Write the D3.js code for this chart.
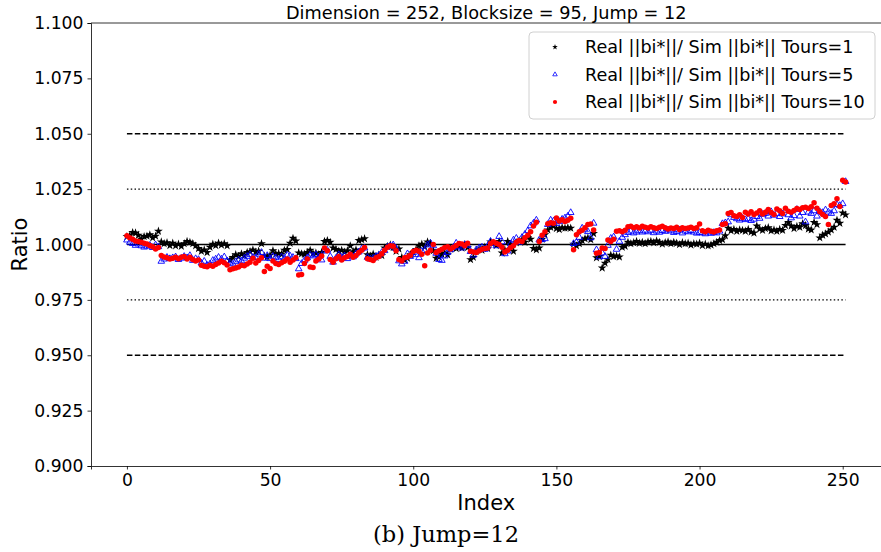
<!DOCTYPE html>
<html>
<head>
<meta charset="utf-8">
<script src="https://cdn.jsdelivr.net/npm/d3@7/dist/d3.min.js"></script>
<style>
  body { margin: 0; background: #fff; }
  svg { display: block; }
</style>
</head>
<body>
<div id="chart"></div>
<script>
// Real ||bi*|| / Sim ||bi*|| per index
const tours1 = [
  1.0036, 1.0040, 1.0054, 1.0052, 1.0042, 1.0024, 1.0036, 1.0038, 1.0044, 1.0030, 1.0038, 1.0060,
  1.0012, 1.0004, 1.0008, 0.9996, 1.0006, 0.9994, 1.0002, 0.9992, 1.0004, 1.0014, 1.0010, 1.0004, 0.9994,
  0.9982, 0.9970, 0.9976, 0.9964, 0.9988, 1.0002, 0.9996, 1.0006, 0.9998, 1.0004, 0.9994,
  0.9930, 0.9942, 0.9954, 0.9946, 0.9958, 0.9950, 0.9964, 0.9968, 0.9976, 0.9966, 0.9970, 1.0004, 0.9948, 0.9944, 0.9952, 0.9972, 0.9958, 0.9960, 0.9956, 0.9974, 0.9978, 1.0006, 1.0028, 1.0016,
  0.9962, 0.9958, 0.9956, 0.9964, 0.9974, 0.9960, 0.9962, 0.9954, 0.9964, 1.0014, 1.0018, 1.0010, 0.9984, 0.9978, 0.9970, 0.9974, 0.9966, 0.9972, 0.9994, 0.9968,
  0.9976, 1.0018, 1.0022, 1.0026, 0.9954, 0.9948, 0.9956, 0.9942, 0.9952, 0.9950, 0.9984, 0.9992, 0.9998, 0.9986, 0.9970, 0.9980, 0.9942, 0.9930, 0.9938, 0.9954,
  0.9964, 0.9978, 0.9994, 1.0002, 0.9990, 1.0012, 1.0004, 0.9972, 0.9938, 0.9944, 0.9956, 0.9962, 0.9954, 0.9980, 0.9986, 0.9982, 0.9994, 0.9984, 0.9998, 0.9986,
  0.9932, 0.9942, 0.9970, 0.9978, 0.9974, 0.9988, 0.9982, 1.0012, 1.0006, 0.9996, 1.0014, 0.9962, 0.9976, 1.0014, 1.0002, 0.9970, 1.0008, 1.0016, 1.0022, 1.0010,
  1.0032, 1.0024, 0.9982, 0.9976, 0.9984, 1.0024, 1.0044, 1.0066, 1.0078, 1.0084, 1.0072, 1.0068, 1.0076, 1.0074, 1.0076, 1.0074, 1.0002, 0.9994, 1.0004, 1.0018,
  1.0026, 1.0030, 1.0022, 1.0050, 0.9940, 0.9946, 0.9894, 0.9916, 0.9932, 0.9952, 0.9946, 0.9948, 0.9944, 0.9988, 0.9992, 1.0010, 1.0004, 1.0008, 1.0014, 1.0006,
  1.0010, 1.0004, 1.0012, 1.0014, 1.0008, 1.0016, 1.0010, 1.0002, 1.0008, 1.0012, 1.0004, 1.0010, 1.0006, 1.0000, 1.0008, 1.0004, 1.0006, 0.9998, 1.0004, 1.0002,
  1.0006, 0.9996, 1.0002, 0.9994, 0.9998, 1.0004, 1.0010, 1.0018, 1.0022, 1.0040, 1.0074, 1.0062, 1.0068, 1.0060, 1.0066, 1.0064, 1.0060, 1.0068, 1.0056, 1.0052,
  1.0084, 1.0070, 1.0064, 1.0072, 1.0076, 1.0062, 1.0066, 1.0060, 1.0068, 1.0064, 1.0086, 1.0100, 1.0084, 1.0072, 1.0082, 1.0078, 1.0094, 1.0086, 1.0070, 1.0066,
  1.0100, 1.0090, 1.0030, 1.0042, 1.0048, 1.0056, 1.0066, 1.0078, 1.0110, 1.0096, 1.0142, 1.0134
];
const tours5 = [
  1.0020, 1.0010, 1.0004, 0.9996, 1.0002, 0.9994, 0.9988, 0.9992, 0.9996, 0.9986, 0.9998, 0.9990,
  0.9924, 0.9934, 0.9942, 0.9936, 0.9940, 0.9944, 0.9932, 0.9938, 0.9946, 0.9940, 0.9950, 0.9928, 0.9936, 0.9932, 0.9916, 0.9924, 0.9906, 0.9912, 0.9928, 0.9934, 0.9942, 0.9934, 0.9944, 0.9926,
  0.9916, 0.9912, 0.9922, 0.9930, 0.9926, 0.9938, 0.9946, 0.9954, 0.9942, 0.9940, 0.9956, 0.9964, 0.9938, 0.9950, 0.9936, 0.9946, 0.9940, 0.9932, 0.9944, 0.9938, 0.9952, 0.9948, 0.9942, 0.9936,
  0.9890, 0.9914, 0.9928, 0.9940, 0.9952, 0.9948, 0.9954, 0.9944, 0.9930, 0.9970, 0.9974, 0.9946, 0.9920, 0.9938, 0.9954, 0.9942, 0.9948, 0.9936, 0.9952, 0.9944,
  0.9958, 0.9966, 0.9980, 0.9984, 0.9942, 0.9934, 0.9938, 0.9946, 0.9952, 0.9964, 0.9972, 0.9988, 0.9994, 0.9998, 0.9982, 0.9926, 0.9912, 0.9924, 0.9958, 0.9946,
  0.9964, 0.9954, 0.9940, 0.9970, 0.9972, 0.9998, 1.0006, 0.9994, 0.9960, 0.9932, 0.9928, 0.9948, 0.9964, 0.9976, 0.9986, 1.0006, 0.9992, 0.9984, 1.0000, 0.9996,
  0.9968, 0.9952, 0.9976, 0.9984, 0.9988, 0.9978, 0.9992, 1.0014, 1.0004, 0.9994, 1.0036, 1.0012, 0.9958, 0.9970, 1.0002, 1.0020, 1.0028, 1.0010, 1.0032, 1.0046,
  1.0062, 1.0084, 1.0096, 1.0110, 1.0020, 1.0022, 1.0026, 1.0090, 1.0110, 1.0106, 1.0094, 1.0104, 1.0114, 1.0120, 1.0128, 1.0144, 1.0004, 1.0010, 1.0032, 1.0074,
  1.0066, 1.0058, 1.0030, 1.0096, 0.9976, 0.9944, 0.9962, 0.9946, 0.9996, 1.0028, 1.0034, 0.9978, 1.0014, 1.0032, 1.0044, 1.0054, 1.0060, 1.0052, 1.0056, 1.0062,
  1.0056, 1.0061, 1.0057, 1.0064, 1.0053, 1.0060, 1.0055, 1.0063, 1.0059, 1.0066, 1.0061, 1.0054, 1.0058, 1.0065, 1.0052, 1.0060, 1.0057, 1.0063, 1.0056, 1.0051,
  1.0054, 1.0052, 1.0048, 1.0056, 1.0050, 1.0054, 1.0052, 1.0060, 1.0094, 1.0098, 1.0102, 1.0134, 1.0122, 1.0116, 1.0110, 1.0118, 1.0112, 1.0116, 1.0108, 1.0114,
  1.0126, 1.0118, 1.0136, 1.0140, 1.0128, 1.0148, 1.0132, 1.0140, 1.0126, 1.0138, 1.0154, 1.0134, 1.0120, 1.0130, 1.0158, 1.0128, 1.0144, 1.0102, 1.0146, 1.0140,
  1.0152, 1.0128, 1.0148, 1.0144, 1.0156, 1.0146, 1.0140, 1.0152, 1.0180, 1.0176, 1.0184, 1.0284
];
const tours10 = [
  1.0040, 1.0030, 1.0024, 1.0016, 1.0014, 1.0010, 1.0006, 1.0002, 0.9996, 0.9990, 0.9980, 0.9986,
  0.9950, 0.9944, 0.9940, 0.9934, 0.9938, 0.9942, 0.9936, 0.9942, 0.9946, 0.9934, 0.9942, 0.9932, 0.9926, 0.9930, 0.9906, 0.9902, 0.9900, 0.9906, 0.9902, 0.9910, 0.9916, 0.9924, 0.9918, 0.9908,
  0.9886, 0.9890, 0.9894, 0.9898, 0.9906, 0.9904, 0.9912, 0.9920, 0.9938, 0.9916, 0.9928, 0.9940, 0.9878, 0.9902, 0.9892, 0.9926, 0.9914, 0.9910, 0.9918, 0.9924, 0.9934, 0.9920, 0.9930, 0.9940,
  0.9862, 0.9864, 0.9914, 0.9934, 0.9898, 0.9896, 0.9926, 0.9934, 0.9948, 0.9984, 0.9972, 0.9932, 0.9920, 0.9936, 0.9946, 0.9930, 0.9940, 0.9946, 0.9956, 0.9942,
  0.9950, 0.9964, 0.9974, 0.9986, 0.9936, 0.9932, 0.9928, 0.9940, 0.9946, 0.9958, 0.9974, 0.9988, 0.9994, 0.9992, 0.9972, 0.9932, 0.9926, 0.9940, 0.9944, 0.9952,
  0.9968, 0.9974, 0.9970, 0.9956, 0.9904, 0.9962, 0.9974, 1.0000, 0.9964, 0.9972, 0.9978, 0.9986, 0.9990, 0.9980, 0.9988, 0.9996, 1.0004, 1.0002, 0.9994, 1.0006,
  0.9970, 0.9966, 0.9964, 0.9972, 0.9978, 0.9982, 0.9984, 1.0004, 1.0012, 1.0006, 1.0000, 0.9988, 0.9966, 0.9974, 0.9986, 0.9994, 1.0010, 1.0018, 1.0014, 1.0030,
  1.0042, 1.0058, 1.0084, 1.0100, 1.0014, 1.0042, 1.0058, 1.0094, 1.0098, 1.0096, 1.0120, 1.0106, 1.0112, 1.0104, 1.0110, 1.0118, 0.9976, 1.0044, 1.0058, 1.0064,
  1.0076, 1.0090, 1.0092, 1.0066, 0.9960, 0.9964, 0.9984, 0.9982, 1.0020, 1.0014, 1.0024, 1.0060, 1.0062, 1.0058, 1.0064, 1.0080, 1.0082, 1.0076, 1.0080, 1.0074,
  1.0082, 1.0078, 1.0074, 1.0080, 1.0076, 1.0072, 1.0078, 1.0082, 1.0076, 1.0070, 1.0074, 1.0072, 1.0078, 1.0068, 1.0076, 1.0072, 1.0074, 1.0078, 1.0072, 1.0076,
  1.0092, 1.0062, 1.0058, 1.0064, 1.0060, 1.0056, 1.0062, 1.0066, 1.0090, 1.0094, 1.0140, 1.0144, 1.0130, 1.0126, 1.0134, 1.0122, 1.0146, 1.0138, 1.0148, 1.0136,
  1.0142, 1.0152, 1.0138, 1.0146, 1.0158, 1.0144, 1.0136, 1.0160, 1.0152, 1.0140, 1.0164, 1.0150, 1.0146, 1.0154, 1.0162, 1.0158, 1.0166, 1.0168, 1.0162, 1.0170,
  1.0188, 1.0164, 1.0148, 1.0136, 1.0126, 1.0090, 1.0176, 1.0184, 1.0206, 1.0172, 1.0290, 1.0282
];
const seriesNames = ['Real ||bi*||/ Sim ||bi*|| Tours=1', 'Real ||bi*||/ Sim ||bi*|| Tours=5', 'Real ||bi*||/ Sim ||bi*|| Tours=10'];
const refLevels = [1.05, 1.025, 1.0, 0.975, 0.95];
const refStyles = ['dashed', 'dotted', 'solid', 'dotted', 'dashed'];
const xTicks = [0, 50, 100, 150, 200, 250];
const yTicks = [0.900, 0.925, 0.950, 0.975, 1.000, 1.025, 1.050, 1.075, 1.100];
const title = 'Dimension = 252, Blocksize = 95, Jump = 12';
const caption = '(b) Jump=12';

const W = 881, H = 552;
const M = { left: 91, right: 881.5, top: 23, bottom: 466 };
const FONT = 'DejaVu Sans, sans-serif';
const n = tours1.length;

const svg = d3.select('#chart').append('svg').attr('width', W).attr('height', H);

const pad = (n - 1) * 0.05;
const x = d3.scaleLinear().domain([-pad, n - 1 + pad]).range([M.left, M.right]);
const y = d3.scaleLinear().domain([0.9, 1.1]).range([M.bottom, M.top]);

svg.append('defs').append('clipPath').attr('id', 'plotClip')
  .append('rect').attr('x', M.left).attr('y', M.top).attr('width', M.right - M.left).attr('height', M.bottom - M.top);

// reference lines
const dash = { dashed: '5.5,2.4', dotted: '1.5,2.3', solid: null };
svg.append('g').selectAll('line').data(refLevels).join('line')
  .attr('x1', x(0)).attr('x2', x(n - 1))
  .attr('y1', d => y(d)).attr('y2', d => y(d))
  .attr('stroke', '#000').attr('stroke-width', 1.4)
  .attr('stroke-dasharray', (d, i) => dash[refStyles[i]]);

const plot = svg.append('g').attr('clip-path', 'url(#plotClip)');
const star = d3.symbol().type(d3.symbolStar).size(24);
const tri = d3.symbol().type(d3.symbolTriangle).size(19);

plot.append('g').selectAll('path').data(tours1).join('path')
  .attr('transform', (d, i) => `translate(${x(i)},${y(d)})`)
  .attr('d', star).attr('fill', '#000');

plot.append('g').selectAll('path').data(tours5).join('path')
  .attr('transform', (d, i) => `translate(${x(i)},${y(d)})`)
  .attr('d', tri).attr('fill', 'none').attr('stroke', '#0000ff').attr('stroke-width', 0.9);

plot.append('g').selectAll('circle').data(tours10).join('circle')
  .attr('cx', (d, i) => x(i)).attr('cy', d => y(d)).attr('r', 2.75).attr('fill', '#ff0000');

// axes
const xAxis = svg.append('g').attr('transform', `translate(0,${M.bottom})`)
  .call(d3.axisBottom(x).tickValues(xTicks).tickSize(3.5).tickPadding(4));
const yAxis = svg.append('g').attr('transform', `translate(${M.left},0)`)
  .call(d3.axisLeft(y).tickValues(yTicks).tickFormat(d3.format('.3f')).tickSize(3.5).tickPadding(4));
[xAxis, yAxis].forEach(g => {
  g.select('.domain').attr('stroke', '#000').attr('stroke-width', 0.8);
  g.selectAll('.tick line').attr('stroke', '#000').attr('stroke-width', 0.8);
  g.selectAll('.tick text').attr('font-family', FONT).attr('font-size', 17.2).attr('fill', '#000');
});
// top and right spines
svg.append('line').attr('x1', M.left).attr('x2', M.right).attr('y1', M.top).attr('y2', M.top)
  .attr('stroke', '#000').attr('stroke-width', 0.8);
svg.append('line').attr('x1', M.right).attr('x2', M.right).attr('y1', M.top).attr('y2', M.bottom)
  .attr('stroke', '#000').attr('stroke-width', 0.8);

// labels
svg.append('text').attr('x', (M.left + M.right) / 2).attr('y', 19).attr('text-anchor', 'middle')
  .attr('font-family', FONT).attr('font-size', 17.7).text(title);
svg.append('text').attr('x', (M.left + M.right) / 2).attr('y', 510).attr('text-anchor', 'middle')
  .attr('font-family', FONT).attr('font-size', 21).text('Index');
svg.append('text').attr('transform', `translate(27,${(M.top + M.bottom) / 2}) rotate(-90)`).attr('text-anchor', 'middle')
  .attr('font-family', FONT).attr('font-size', 21).text('Ratio');
svg.append('text').attr('x', 446).attr('y', 542).attr('text-anchor', 'middle')
  .attr('font-family', 'DejaVu Serif, serif').attr('font-size', 22)
  .attr('textLength', 146).attr('lengthAdjust', 'spacingAndGlyphs').text(caption);

// legend
const lg = svg.append('g').attr('transform', 'translate(529,32)');
lg.append('rect').attr('width', 346).attr('height', 87).attr('rx', 4)
  .attr('fill', 'rgba(255,255,255,0.8)').attr('stroke', '#d0d0d0').attr('stroke-width', 1);
const rows = lg.selectAll('g.row').data(seriesNames).join('g').attr('class', 'row')
  .attr('transform', (d, i) => `translate(0,${15 + i * 27.5})`);
rows.append('text').attr('x', 56).attr('y', 0).attr('dy', '0.35em')
  .attr('font-family', FONT).attr('font-size', 17.6).text(d => d);
rows.filter((d, i) => i === 0).append('path').attr('transform', 'translate(26,0)')
  .attr('d', d3.symbol().type(d3.symbolStar).size(10)).attr('fill', '#000');
rows.filter((d, i) => i === 1).append('path').attr('transform', 'translate(26,0)')
  .attr('d', d3.symbol().type(d3.symbolTriangle).size(9)).attr('fill', 'none').attr('stroke', '#0000ff').attr('stroke-width', 0.8);
rows.filter((d, i) => i === 2).append('circle').attr('cx', 26).attr('cy', 0).attr('r', 2.1).attr('fill', '#ff0000');
</script>
</body>
</html>
